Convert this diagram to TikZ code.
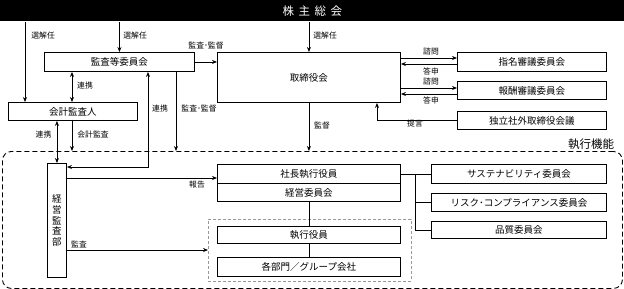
\documentclass[tikz,border=0pt]{standalone}
\usepackage{fontspec}
\setmainfont{Noto Sans CJK JP}
\usetikzlibrary{arrows.meta}
\begin{document}
\begin{tikzpicture}[x=1pt,y=-1pt,
  line width=0.8pt,
  box/.style={draw, line width=0.9pt, anchor=north west, inner sep=0pt, font=\fontsize{9.5}{10}\selectfont},
  lbl/.style={font=\fontsize{7.8}{8}\selectfont, inner sep=0pt},
  arr/.style={-{Stealth[length=5pt,width=4pt]}},
  darr/.style={{Stealth[length=5pt,width=4pt]}-{Stealth[length=5pt,width=4pt]}},
  ln/.style={draw}]
\useasboundingbox (0,0) rectangle (624,289);
% top bar
\node[fill=black, anchor=north west, minimum width=624pt, minimum height=21pt, inner sep=0pt, text=white, font=\fontsize{11.5}{12}\selectfont] (top) at (0,0) {株\hspace{4.5pt}主\hspace{4.5pt}総\hspace{4.5pt}会};
% frames
\node[draw, dashed, dash pattern=on 5pt off 3pt, rounded corners=9pt, anchor=north west, minimum width=620pt, minimum height=137pt, inner sep=0pt, line width=0.9pt] (frame) at (2,151) {};
\node[anchor=center, font=\fontsize{11.5}{12}\selectfont, inner sep=0pt] (shikkoukino) at (591,144) {執行機能};
\node[draw=gray!80, dashed, dash pattern=on 3pt off 2pt, anchor=north west, minimum width=203pt, minimum height=62pt, inner sep=0pt, line width=0.8pt] (inner) at (208,219) {};
% boxes
\node[box, minimum width=150pt, minimum height=19pt] (kansa) at (44,52) {監査等委員会};
\node[box, minimum width=183pt, minimum height=50pt] (tori) at (217,52) {取締役会};
\node[box, minimum width=129pt, minimum height=18pt] (kaikei) at (8,102) {会計監査人};
\node[box, minimum width=149pt, minimum height=19pt] (shimei) at (457,52) {指名審議委員会};
\node[box, minimum width=149pt, minimum height=18pt] (houshu) at (457,81) {報酬審議委員会};
\node[box, minimum width=149pt, minimum height=18pt] (dokuritsu) at (457,111) {独立社外取締役会議};
\node[box, minimum width=19pt, minimum height=114pt] (kk) at (47,163) {\shortstack{経\\[-1pt]営\\[-1pt]監\\[-1pt]査\\[-1pt]部}};
\node[box, minimum width=183pt, minimum height=19pt] (shacho) at (217,164) {社長執行役員};
\node[box, minimum width=183pt, minimum height=18pt] (keieii) at (217,183) {経営委員会};
\node[box, minimum width=183pt, minimum height=17pt] (shikkou) at (217,226) {執行役員};
\node[box, minimum width=183pt, minimum height=19pt] (kakubu) at (217,257) {各部門／グループ会社};
\node[box, minimum width=175pt, minimum height=19pt] (sustain) at (431,164) {サステナビリティ委員会};
\node[box, minimum width=175pt, minimum height=18pt] (risk) at (431,193) {リスク･コンプライアンス委員会};
\node[box, minimum width=175pt, minimum height=17pt] (hinshitsu) at (431,221) {品質委員会};
% connectors
\draw[arr] (top.south -| 25,0) -- (kaikei.north -| 25,0);
\draw[arr] (top.south -| kansa.north) -- (kansa.north);
\draw[arr] (top.south -| tori.north) -- (tori.north);
\draw[arr] (kansa.east) -- (tori.west |- kansa.east);
\draw[darr] (kansa.south -| 72,0) -- (kaikei.north -| 72,0);
\draw[darr] (kansa.south -| 148,0) -- (148,167) -- (kk.east |- 0,167);
\draw[arr] (kansa.south -| 176,0) -- (frame.north -| 176,0);
\draw[arr] (tori.south) -- (frame.north -| tori.south);
\draw[darr] (kaikei.south -| kk.north) -- (kk.north);
\draw[arr] (kaikei.south -| 72,0) -- (frame.north -| 72,0);
\draw[arr] (kk.east |- 0,178) -- (shacho.west |- 0,178);
\draw[arr] (kk.east |- 0,250) -- (inner.west |- 0,250);
\draw (keieii.south) -- (shikkou.north);
\draw (shikkou.south) -- (kakubu.north);
\draw (shacho.east) -- (sustain.west);
\draw (shacho.east -| 415,0) |- (risk.west);
\draw (shacho.east -| 415,0) |- (hinshitsu.west);
\draw[arr] (tori.east |- 0,58) -- (shimei.west |- 0,58);
\draw[arr] (shimei.west |- 0,64) -- (tori.east |- 0,64);
\draw[arr] (tori.east |- 0,88) -- (houshu.west |- 0,88);
\draw[arr] (houshu.west |- 0,94) -- (tori.east |- 0,94);
\draw[arr] (dokuritsu.west) -| (tori.south -| 377,0);
% labels
\node[lbl, anchor=west] (l1) at (31,36) {選解任};
\node[lbl, anchor=west] (l2) at (123,36) {選解任};
\node[lbl, anchor=west] (l3) at (313,36) {選解任};
\node[lbl] (l4) at (206,46) {監査･監督};
\node[lbl] (l5) at (85,86) {連携};
\node[lbl] (l6) at (160,109) {連携};
\node[lbl] (l7) at (199,109) {監査･監督};
\node[lbl] (l8) at (43.5,135) {連携};
\node[lbl] (l9) at (93,135) {会計監査};
\node[lbl] (l10) at (322,126) {監督};
\node[lbl] (l11) at (197,185) {報告};
\node[lbl] (l12) at (79,244) {監査};
\node[lbl] (l13) at (431,52) {諮問};
\node[lbl] (l14) at (431,71) {答申};
\node[lbl] (l15) at (431,82) {諮問};
\node[lbl] (l16) at (431,100) {答申};
\node[lbl] (l17) at (415,124) {提言};
\end{tikzpicture}
\end{document}
